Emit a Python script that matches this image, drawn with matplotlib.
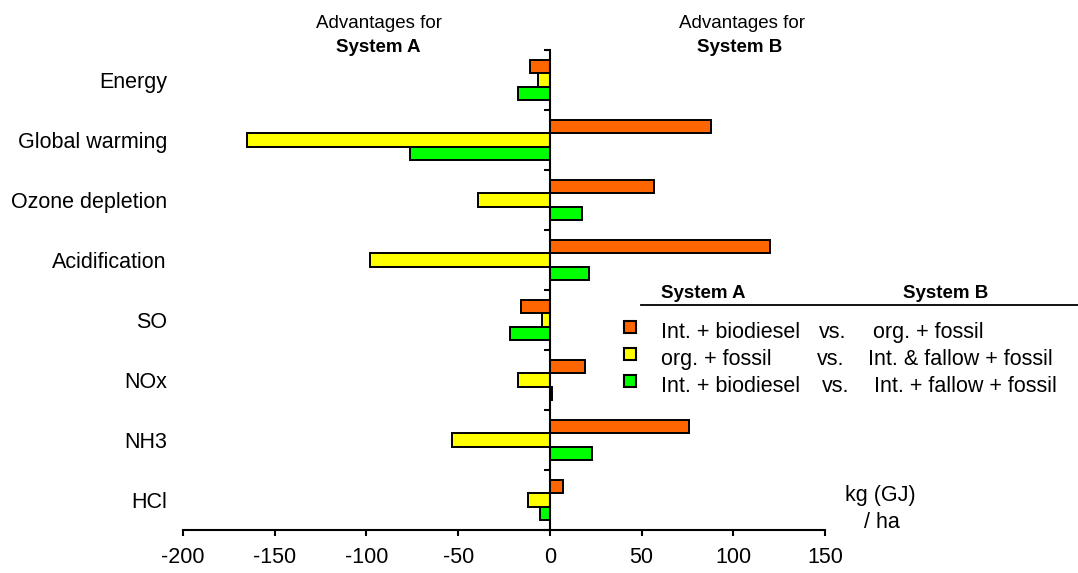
import matplotlib
matplotlib.use("Agg")
import matplotlib.pyplot as plt
import matplotlib.transforms as mtransforms
import numpy as np

plt.rcParams["font.family"] = ["Liberation Sans", "DejaVu Sans"]

# impact categories, top to bottom
categories = ["Energy", "Global warming", "Ozone depletion", "Acidification",
              "SO", "NOx", "NH3", "HCl"]

# kg (GJ) / ha, negative = advantage for System A
biodiesel_vs_org = [-11, 88, 57, 120, -16, 19, 76, 7]
org_vs_fallow = [-6.5, -165, -39, -98, -4.5, -17.5, -53.5, -12]
biodiesel_vs_fallow = [-17.5, -76.5, 17.5, 21.5, -22, 1, 23, -5.5]

series = [biodiesel_vs_org, org_vs_fallow, biodiesel_vs_fallow]
colors = ["#FF6600", "#FFFF00", "#00FF00"]
legend_a = ["Int. + biodiesel", "org. + fossil", "Int. + biodiesel"]
legend_b = ["org. + fossil", "Int. & fallow + fossil", "Int. + fallow + fossil"]
xticks = [-200, -150, -100, -50, 0, 50, 100, 150]

W, H = 1078, 573
fig = plt.figure(figsize=(W / 100, H / 100), dpi=100)
ax = fig.add_axes([183 / W, 1 - 530 / H, 642 / W, 480 / H])


def fx(px):
    return px / W


def fy(py):
    # pixel row from the top, nudged down a little for text centring
    return 1 - (py + 2) / H


big = 15.5
head = 13.5

bar_h = 0.222
y = np.arange(len(categories)) + 0.5
for k, (vals, col) in enumerate(zip(series, colors)):
    ax.barh(y + (k - 1) * bar_h, vals, height=bar_h, color=col,
            edgecolor="black", linewidth=1.4)

ax.set_xlim(-200, 150)
ax.set_ylim(len(categories), 0)
ax.spines["top"].set_visible(False)
ax.spines["right"].set_visible(False)
ax.spines["left"].set_position(("data", 0))
ax.spines["left"].set_linewidth(1.5)
ax.spines["bottom"].set_linewidth(1.5)

ax.set_yticks(np.arange(len(categories) + 1))
ax.set_yticklabels([])
ax.tick_params(axis="y", direction="out", length=4.5, width=1.5)
ax.set_xticks(xticks)
ax.set_xticklabels([str(t) for t in xticks], fontsize=big)
ax.tick_params(axis="x", direction="out", length=4.5, width=1.5, pad=8)

trans = mtransforms.blended_transform_factory(ax.transAxes, ax.transData)
for yi, name in zip(y, categories):
    ax.text(-0.025, yi + 0.035, name, transform=trans, ha="right", va="center",
            fontsize=big)

# headers
fig.text(fx(379), fy(22), "Advantages for", ha="center", va="center", fontsize=head)
fig.text(fx(378), fy(45), "System A", ha="center", va="center", fontsize=head,
         fontweight="bold")
fig.text(fx(742), fy(22), "Advantages for", ha="center", va="center", fontsize=head)
fig.text(fx(740), fy(45), "System B", ha="center", va="center", fontsize=head,
         fontweight="bold")

# legend table
fig.text(fx(661), fy(292), "System A", ha="left", va="center", fontsize=head,
         fontweight="bold")
fig.text(fx(903), fy(292), "System B", ha="left", va="center", fontsize=head,
         fontweight="bold")
fig.add_artist(plt.Line2D([fx(641), fx(1078)], [1 - 305 / H, 1 - 305 / H],
                          color="black", linewidth=1.3))
rows_base = [338, 365, 392]
vs_x = [819, 817, 822]
b_x = [873, 868, 874]
for rb, col, ta, tb, vx, bx in zip(rows_base, colors, legend_a, legend_b, vs_x, b_x):
    fig.add_artist(plt.Rectangle((fx(624), 1 - (rb - 5) / H), 12 / W, 12 / H,
                                 facecolor=col, edgecolor="black", linewidth=1.5))
    base = 1 - rb / H
    fig.text(fx(661), base, ta, ha="left", va="baseline", fontsize=big)
    fig.text(fx(vx), base, "vs.", ha="left", va="baseline", fontsize=big)
    fig.text(fx(bx), base, tb, ha="left", va="baseline", fontsize=big)

fig.text(fx(880), fy(494), "kg (GJ)", ha="center", va="center", fontsize=big)
fig.text(fx(882), fy(520), "/ ha", ha="center", va="center", fontsize=big)

fig.savefig("out.png", dpi=100)
